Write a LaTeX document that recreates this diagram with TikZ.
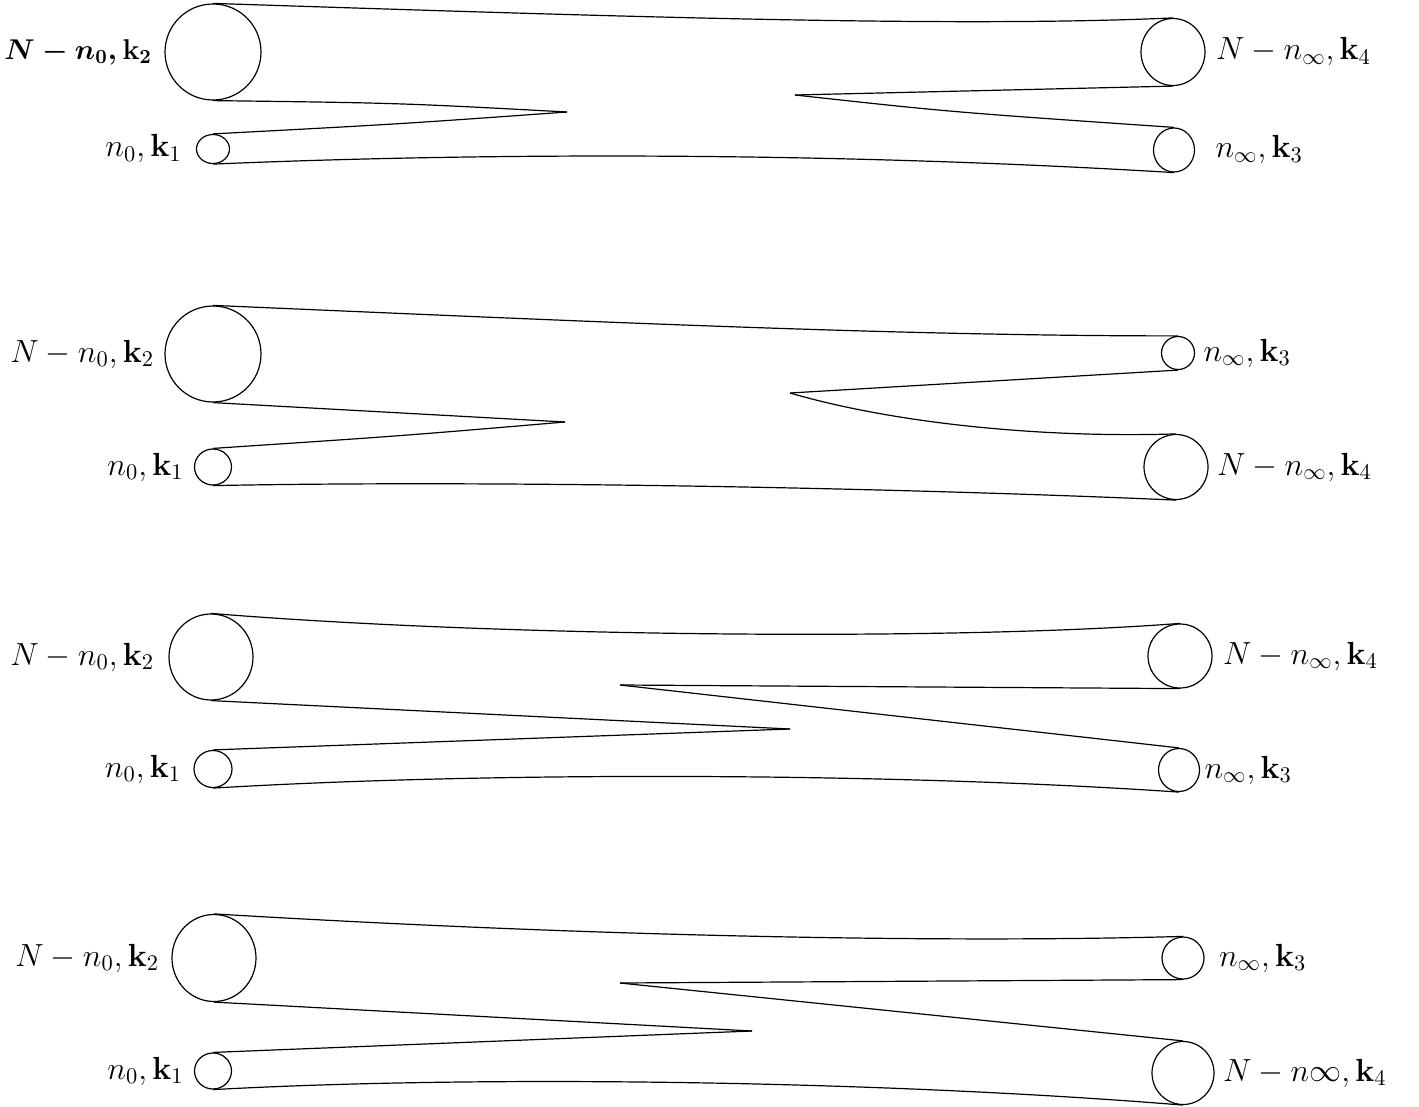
\RequirePackage{fix-cm}
\documentclass[tikz,border=0pt]{standalone}
\usepackage{amsmath}
\usetikzlibrary{shapes.geometric}
\begin{document}
\begin{tikzpicture}[x=0.5pt,y=-0.5pt,
  ring/.style={draw,ellipse,inner sep=0pt,line width=0.6pt},
  lbltext/.style={inner sep=0pt,font=\fontsize{16}{19}\selectfont},
  boldtext/.style={inner sep=0pt,font=\fontsize{14.3}{18}\selectfont\boldmath},
  wire/.style={line width=0.6pt}]
\useasboundingbox (0,0) rectangle (1419,1107);
% ---------- panel 1
\node[ring,minimum width=48pt,minimum height=48pt] (aL2) at (213,52) {};
\node[ring,minimum width=16.5pt,minimum height=14.5pt] (aL1) at (213,149) {};
\node[ring,minimum width=32pt,minimum height=33.5pt] (aR4) at (1173,52) {};
\node[ring,minimum width=20.5pt,minimum height=22pt] (aR3) at (1174,150) {};
\node[boldtext,anchor=east] (aT2) at ([xshift=-6pt]aL2.west) {$N-n_0,\mathbf{k}_2$};
\node[lbltext,anchor=east] (aT1) at ([xshift=-7pt]aL1.west) {$n_0,\mathbf{k}_1$};
\node[lbltext,anchor=west] (aT4) at ([xshift=5pt]aR4.east) {$N-n_\infty,\mathbf{k}_4$};
\node[lbltext,anchor=west] (aT3) at ([xshift=10pt]aR3.east) {$n_\infty,\mathbf{k}_3$};
\coordinate (at1) at (567,112);
\coordinate (at2) at (795,95);
\draw[wire] (aL2.north) .. controls (600,16) and (950,28) .. (aR4.north);
\draw[wire] (aL2.south) .. controls (400,103) .. (at1);
\draw[wire] (at1) .. controls (400,124) .. (aL1.north);
\draw[wire] (aL1.south) .. controls (450,154) and (800,150) .. (aR3.south);
\draw[wire] (aR4.south) -- (at2);
\draw[wire] (at2) .. controls (950,112) .. (aR3.north);
% ---------- panel 2
\node[ring,minimum width=48pt,minimum height=48pt] (bL2) at (213,354) {};
\node[ring,minimum width=18.5pt,minimum height=18pt] (bL1) at (213,467) {};
\node[ring,minimum width=16.5pt,minimum height=16.5pt] (bR3) at (1178,353) {};
\node[ring,minimum width=32pt,minimum height=32.5pt] (bR4) at (1176,467) {};
\node[lbltext,anchor=east] (bT2) at ([xshift=-5pt]bL2.west) {$N-n_0,\mathbf{k}_2$};
\node[lbltext,anchor=east] (bT1) at ([xshift=-5pt]bL1.west) {$n_0,\mathbf{k}_1$};
\node[lbltext,anchor=west] (bT3) at ([xshift=4pt]bR3.east) {$n_\infty,\mathbf{k}_3$};
\node[lbltext,anchor=west] (bT4) at ([xshift=4pt]bR4.east) {$N-n_\infty,\mathbf{k}_4$};
\coordinate (bt1) at (565,422);
\coordinate (bt2) at (790,393);
\draw[wire] (bL2.north) .. controls (600,322) and (900,336) .. (bR3.north);
\draw[wire] (bL2.south) -- (bt1);
\draw[wire] (bt1) .. controls (400,436) .. (bL1.north);
\draw[wire] (bL1.south) .. controls (500,480) and (900,488) .. (bR4.south);
\draw[wire] (bR3.south) -- (bt2);
\draw[wire] (bt2) .. controls (900,425) and (1050,438) .. (bR4.north);
% ---------- panel 3
\node[ring,minimum width=42pt,minimum height=43pt] (cL2) at (211,657) {};
\node[ring,minimum width=19pt,minimum height=18.5pt] (cL1) at (213,769) {};
\node[ring,minimum width=32pt,minimum height=32pt] (cR4) at (1180,656) {};
\node[ring,minimum width=20.5pt,minimum height=21.5pt] (cR3) at (1179,770) {};
\node[lbltext,anchor=east] (cT2) at ([xshift=-7pt]cL2.west) {$N-n_0,\mathbf{k}_2$};
\node[lbltext,anchor=east] (cT1) at ([xshift=-6pt]cL1.west) {$n_0,\mathbf{k}_1$};
\node[lbltext,anchor=west] (cT4) at ([xshift=5pt]cR4.east) {$N-n_\infty,\mathbf{k}_4$};
\node[lbltext,anchor=west] (cT3) at ([xshift=2pt]cR3.east) {$n_\infty,\mathbf{k}_3$};
\coordinate (ct1) at (790,729);
\coordinate (ct2) at (620,685);
\draw[wire] (cL2.north) .. controls (500,637) and (950,641) .. (cR4.north);
\draw[wire] (cL2.south) -- (ct1);
\draw[wire] (ct1) -- (cL1.north);
\draw[wire] (cL1.south) .. controls (500,771) and (900,773) .. (cR3.south);
\draw[wire] (cR4.south) -- (ct2);
\draw[wire] (ct2) -- (cR3.north);
% ---------- panel 4
\node[ring,minimum width=42pt,minimum height=43.5pt] (dL2) at (214,958) {};
\node[ring,minimum width=18.5pt,minimum height=18pt] (dL1) at (213,1071) {};
\node[ring,minimum width=21pt,minimum height=21pt] (dR3) at (1183,958) {};
\node[ring,minimum width=31pt,minimum height=31.5pt] (dR4) at (1183,1073) {};
\node[lbltext,anchor=east] (dT2) at ([xshift=-6pt]dL2.west) {$N-n_0,\mathbf{k}_2$};
\node[lbltext,anchor=east] (dT1) at ([xshift=-5pt]dL1.west) {$n_0,\mathbf{k}_1$};
\node[lbltext,anchor=west] (dT3) at ([xshift=7pt]dR3.east) {$n_\infty,\mathbf{k}_3$};
\node[lbltext,anchor=west] (dT4) at ([xshift=4pt]dR4.east) {$N-n\infty,\mathbf{k}_4$};
\coordinate (dt1) at (752,1031);
\coordinate (dt2) at (620,983);
\draw[wire] (dL2.north) .. controls (600,937) and (950,943) .. (dR3.north);
\draw[wire] (dL2.south) -- (dt1);
\draw[wire] (dt1) -- (dL1.north);
\draw[wire] (dL1.south) .. controls (500,1074) and (900,1082) .. (dR4.south);
\draw[wire] (dR3.south) -- (dt2);
\draw[wire] (dt2) -- (dR4.north);
\end{tikzpicture}
\end{document}
